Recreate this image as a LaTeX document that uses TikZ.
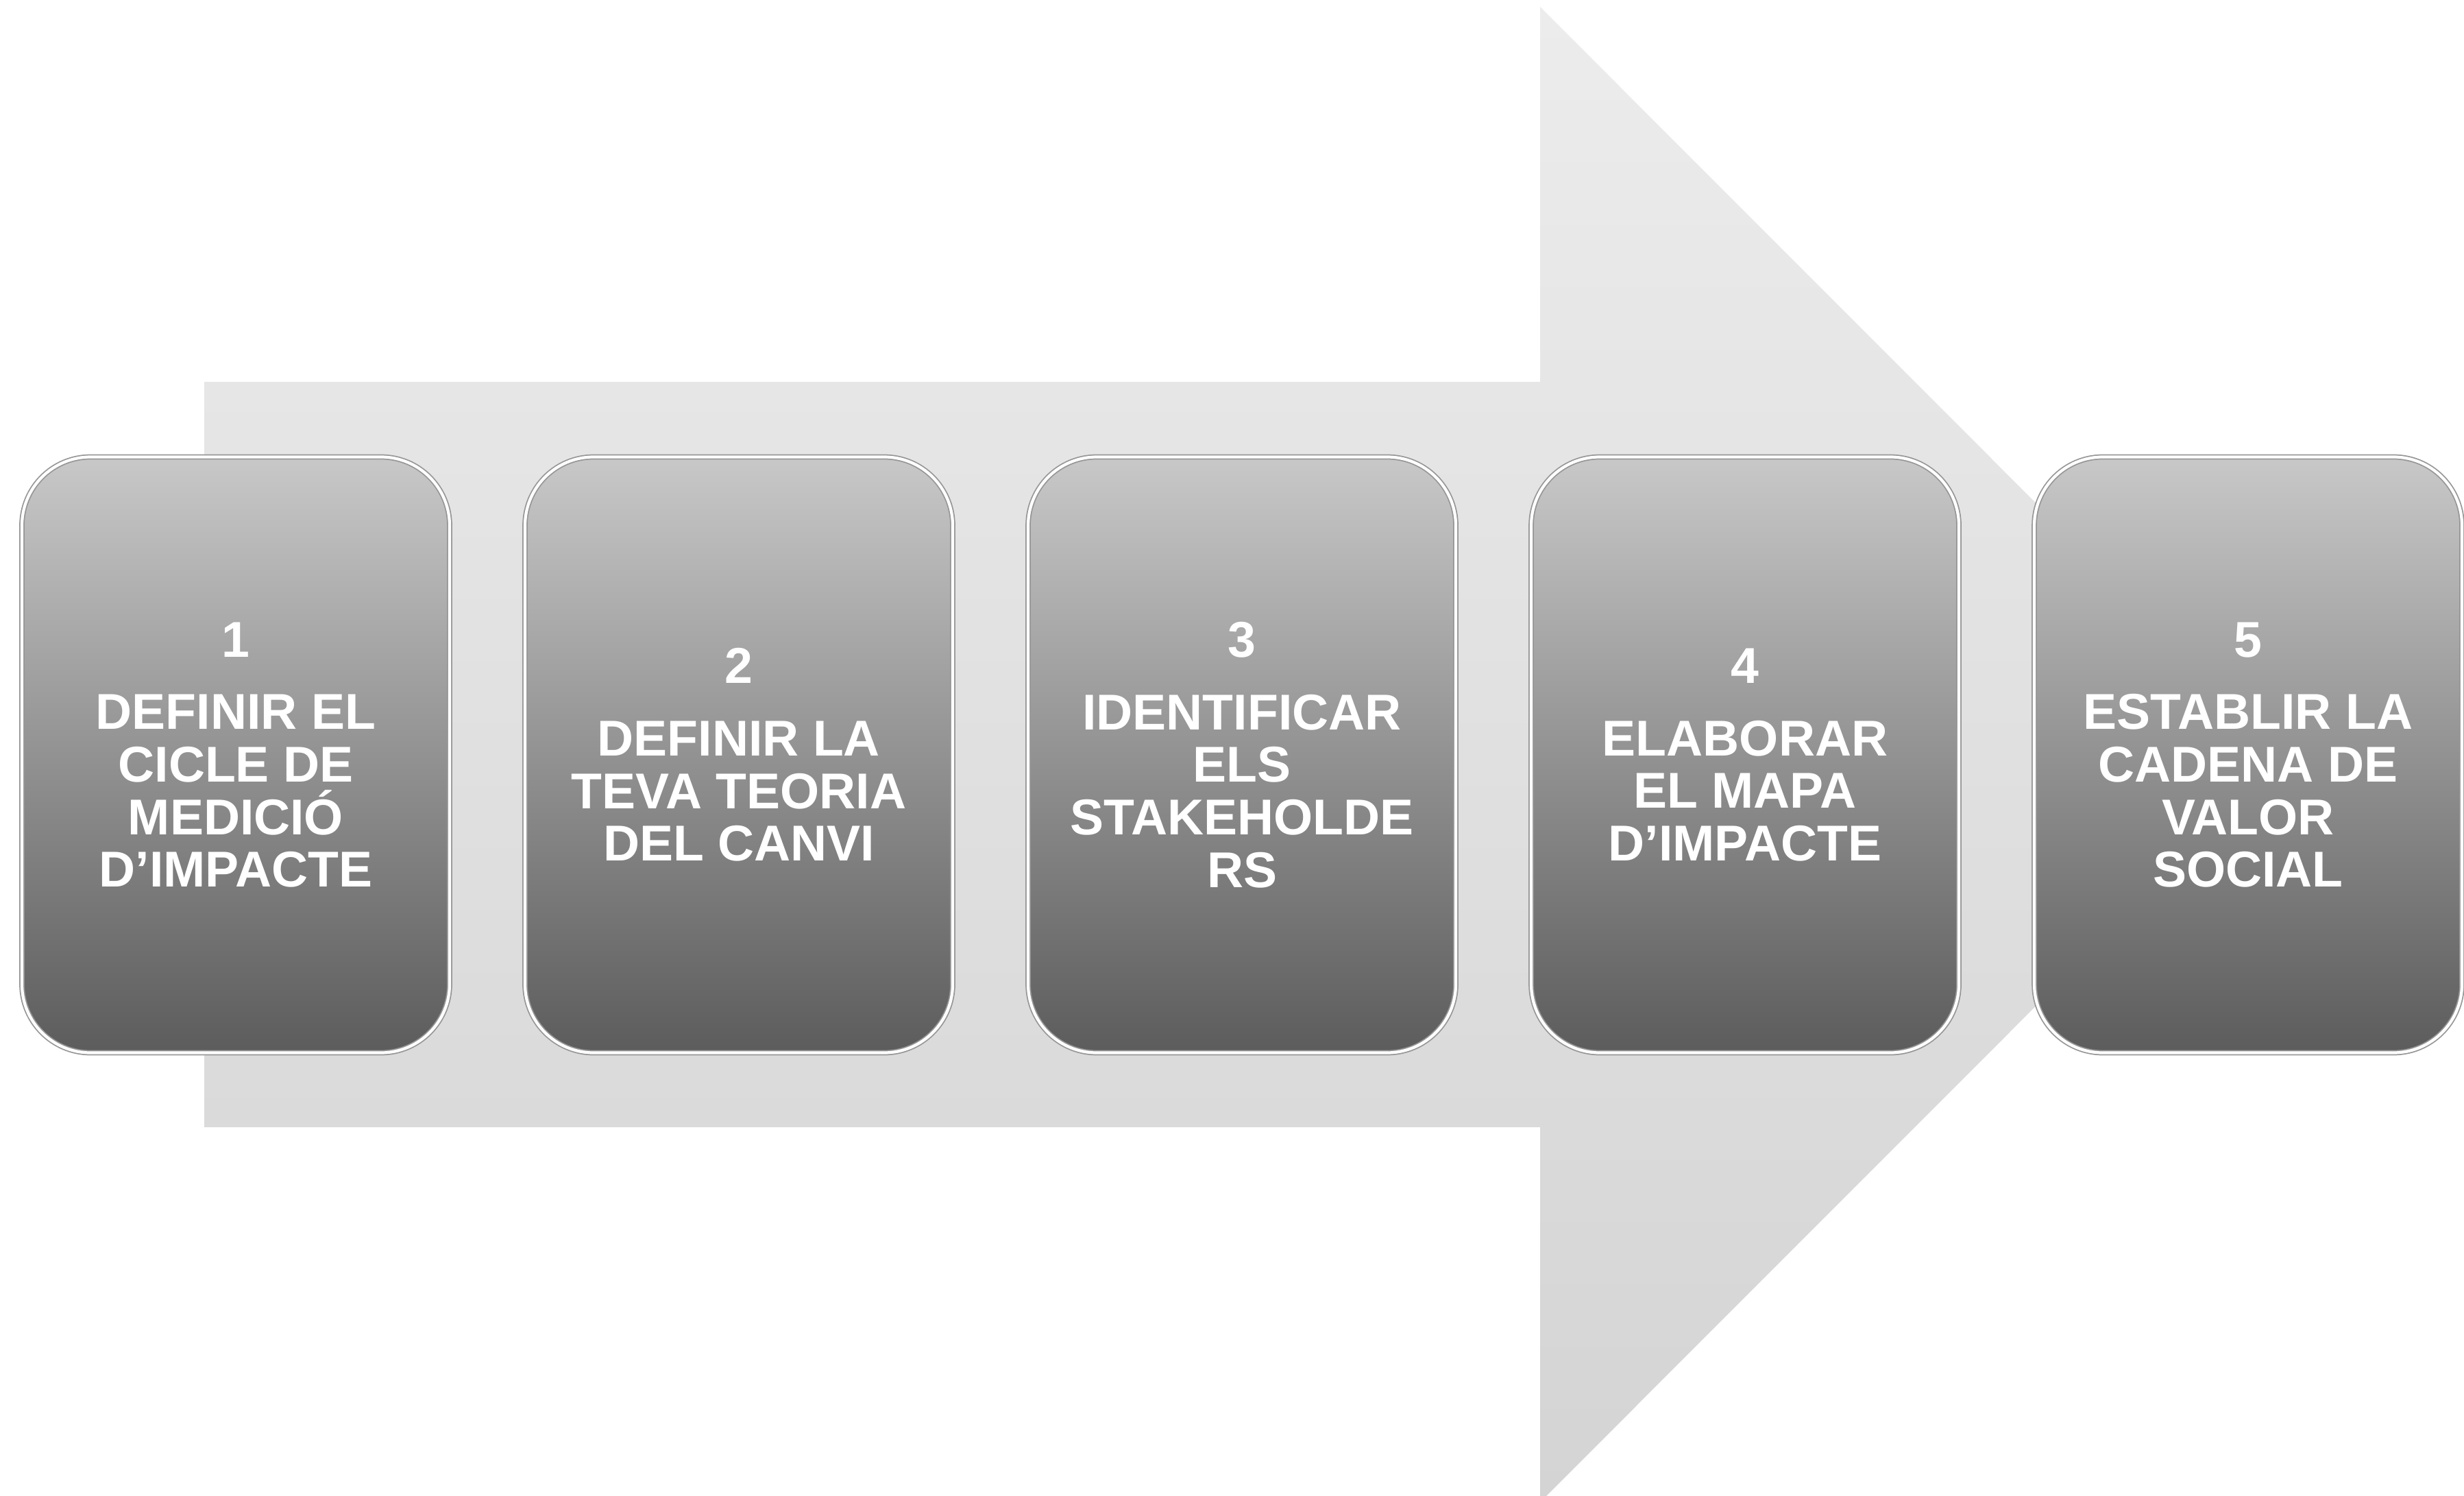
\documentclass[tikz,border=0pt]{standalone}
\usepackage{fontspec}
\setmainfont{Liberation Sans}
\usetikzlibrary{positioning}
\definecolor{ArrowTop}{RGB}{236,236,236}
\definecolor{ArrowBottom}{RGB}{212,212,212}
\definecolor{StageTop}{RGB}{200,200,200}
\definecolor{StageBottom}{RGB}{92,92,92}
\definecolor{StageRim}{RGB}{150,150,150}

\begin{document}
\begin{tikzpicture}[
	stagebox/.style={
		rectangle,
		rounded corners=1cm,
		minimum width=6.24cm,
		minimum height=8.69cm,
		inner sep=0pt,
		outer sep=0pt,
		top color=StageTop,
		bottom color=StageBottom,
		draw=StageRim,
		double=white,
		double distance=1.2pt,
		line width=0.5pt,
		align=center,
		text=white,
		font=\fontsize{20.9}{21.8}\selectfont\bfseries
	}
	]
	
	\useasboundingbox (0,0) rectangle (35.95,21.81);
	
	% big arrow behind the steps
	\shade[
	top color=ArrowTop,
	bottom color=ArrowBottom
	]
	(2.98,5.37) -- (2.98,16.24) -- (22.47,16.24) -- (22.47,21.71)
	-- (33.37,10.805) -- (22.47,-0.1) -- (22.47,5.37) -- cycle;
	
	% the five steps
	\node[stagebox] (s1) at (3.44,10.8)
	{1\\[0.29cm]DEFINIR EL\\CICLE DE\\MEDICIÓ\\D’IMPACTE};
	
	\node[stagebox, right=1.1cm of s1] (s2)
	{2\\[0.29cm]DEFINIR LA\\TEVA TEORIA\\DEL CANVI};
	
	\node[stagebox, right=1.1cm of s2] (s3)
	{3\\[0.29cm]IDENTIFICAR\\ELS\\STAKEHOLDE\\RS};
	
	\node[stagebox, right=1.1cm of s3] (s4)
	{4\\[0.29cm]ELABORAR\\EL MAPA\\D’IMPACTE};
	
	\node[stagebox, right=1.1cm of s4] (s5)
	{5\\[0.29cm]ESTABLIR LA\\CADENA DE\\VALOR\\SOCIAL};
	
\end{tikzpicture}
\end{document}
